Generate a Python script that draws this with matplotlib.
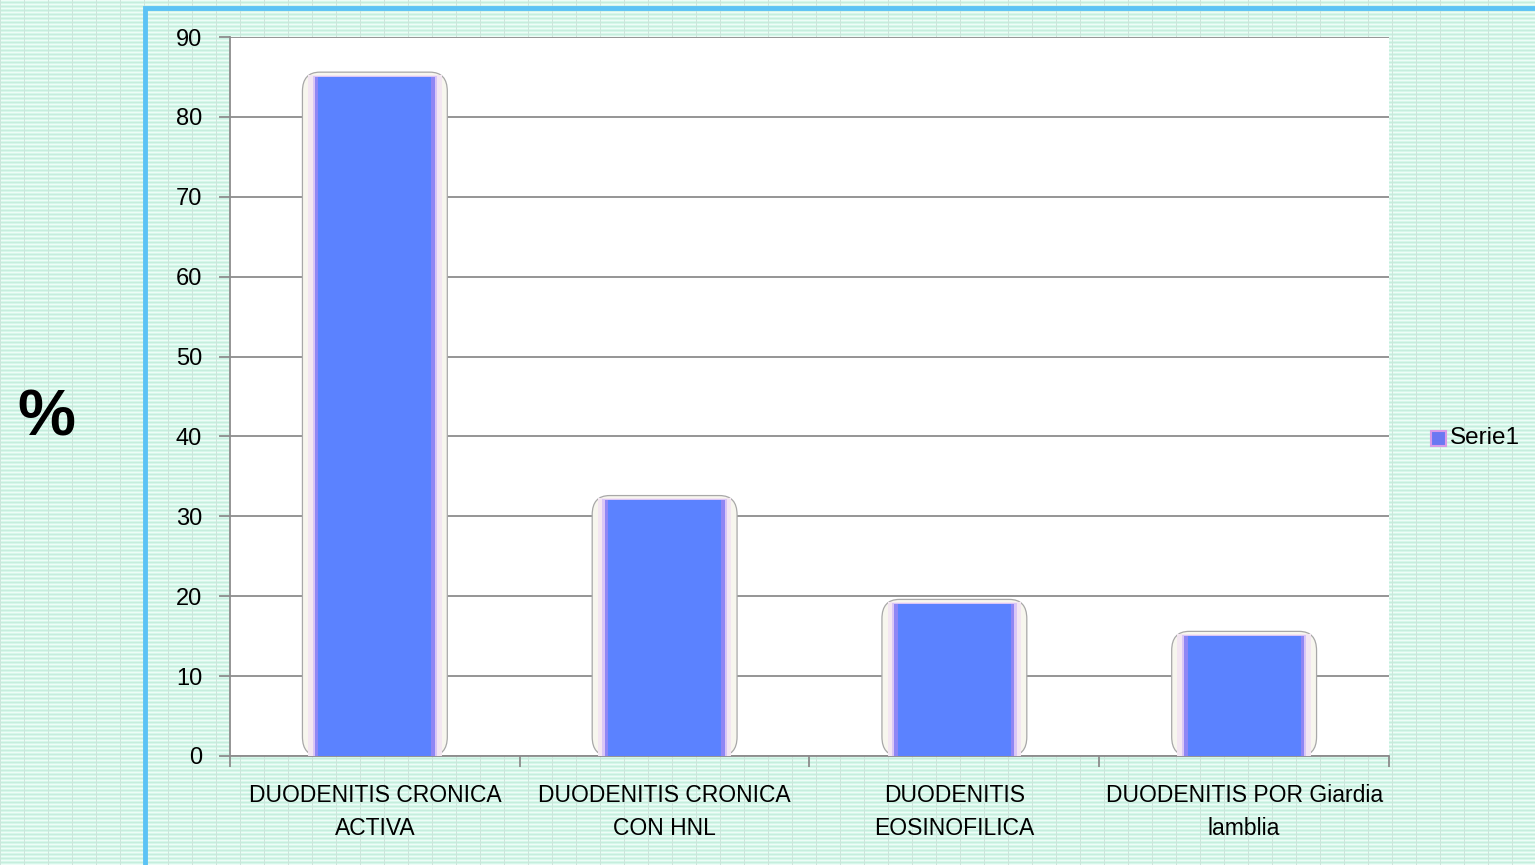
import numpy as np
import matplotlib
matplotlib.use('Agg')
import matplotlib.pyplot as plt
from matplotlib.patches import FancyBboxPatch, Rectangle

# Data
categories = ['DUODENITIS CRONICA\nACTIVA', 'DUODENITIS CRONICA\nCON HNL',
              'DUODENITIS\nEOSINOFILICA', 'DUODENITIS POR Giardia\nlamblia']
values = [85, 32, 19, 15]
y_ticks = [0, 10, 20, 30, 40, 50, 60, 70, 80, 90]
series_name = 'Serie1'

plt.rcParams['font.family'] = ['Liberation Sans', 'DejaVu Sans']

fig = plt.figure(figsize=(15.35, 8.65), dpi=100)

# Mint textured background
bg = fig.add_axes([0, 0, 1, 1])
h, w = 865, 1535
tex = np.ones((h, w, 3))
tex[:] = [0.84, 0.97, 0.92]
rows = np.arange(h)
cols = np.arange(w)
tex[rows % 4 == 0] = [0.94, 0.99, 0.97]
tex[rows % 4 == 2] = [0.78, 0.93, 0.87]
tex[:, cols % 24 == 0] = [0.80, 0.90, 0.86]
bg.imshow(tex, aspect='auto', extent=[0, 1, 0, 1], interpolation='nearest')
bg.set_xlim(0, 1)
bg.set_ylim(0, 1)
bg.axis('off')

# Blue frame
fig.patches.append(Rectangle((145 / 1535, -0.1), 1.0, 1 - 8 / 865 + 0.1,
                             transform=fig.transFigure, fill=False,
                             edgecolor='#5CC3F5', linewidth=3.5, zorder=1))

ax = fig.add_axes([230 / 1535, 1 - 756 / 865, 1159 / 1535, 719 / 865])
ax.set_facecolor('white')

x = np.arange(len(categories))
for xi, v in zip(x, values):
    # soft rounded halo behind each bar
    halo = FancyBboxPatch((xi - 0.25, 0), 0.50, v + 0.6,
                          boxstyle='round,pad=0,rounding_size=0.06',
                          mutation_aspect=40,
                          facecolor='#f7f6ee', edgecolor='#a8a8a8',
                          linewidth=0.9, zorder=2)
    ax.add_patch(halo)
    ax.bar(xi, v + 0.3, width=0.46, color='#f3e6f1', zorder=3)
    ax.bar(xi, v + 0.15, width=0.43, color='#d9c6f6', zorder=3)
    ax.bar(xi, v, width=0.415, color='#8f86f4', zorder=3)
    ax.bar(xi, v, width=0.39, color='#5B82FF', zorder=4)

ax.set_xlim(-0.5, len(categories) - 0.5)
ax.set_ylim(0, 90)
ax.set_yticks(y_ticks)
ax.yaxis.grid(True, color='#8c8c8c', linewidth=1.3, zorder=1)
ax.set_axisbelow(True)

ax.set_xticks(x)
ax.set_xticklabels(categories, fontsize=16.5, linespacing=1.55)
ax.set_xticks(np.arange(len(categories) + 1) - 0.5, minor=True)
ax.tick_params(axis='x', which='major', length=0, pad=20)
ax.tick_params(axis='x', which='minor', length=8, color='#8c8c8c', width=1.3)
ax.tick_params(axis='y', labelsize=17, length=8, color='#8c8c8c', width=1.3, pad=12)

for s in ['top', 'right']:
    ax.spines[s].set_visible(False)
for s in ['left', 'bottom']:
    ax.spines[s].set_color('#8c8c8c')
    ax.spines[s].set_linewidth(1.3)

fig.text(46 / 1535, 1 - 418 / 865, '%', fontsize=47, fontweight='bold',
         ha='center', va='center')

# Legend
fig.patches.append(Rectangle((1431 / 1535, 1 - 446 / 865), 15 / 1535, 15 / 865,
                             transform=fig.transFigure, facecolor='#6a78f2',
                             edgecolor='#d89ae8', linewidth=1.5))
fig.text(1450 / 1535, 1 - 438 / 865, series_name, fontsize=17.5, va='center', ha='left')

fig.savefig('out.png', dpi=100)
